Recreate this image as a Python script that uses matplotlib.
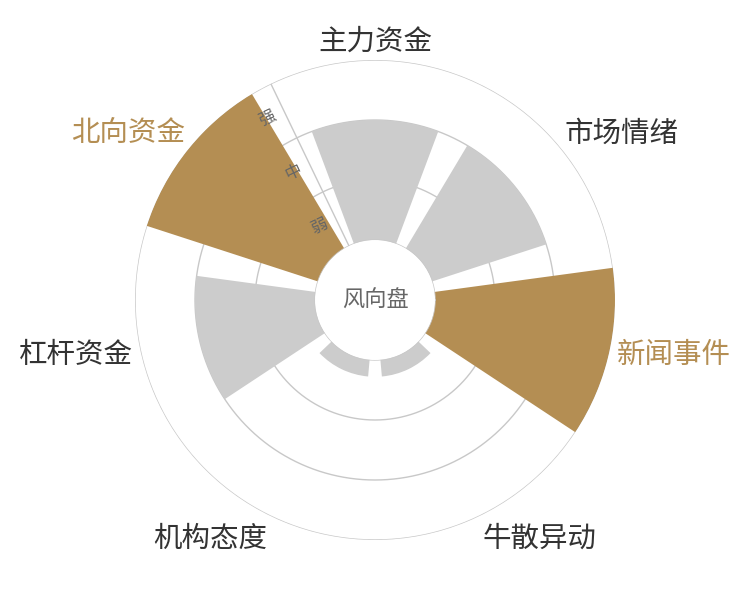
import numpy as np
import matplotlib
matplotlib.use("Agg")
import matplotlib.pyplot as plt

plt.rcParams["font.family"] = ["Noto Sans CJK SC", "DejaVu Sans"]

# data, clockwise from the top
categories = ["主力资金", "市场情绪", "新闻事件", "牛散异动", "机构态度", "杠杆资金", "北向资金"]
values = [2, 2, 3, 0.28, 0.28, 2, 3]
highlight = [False, False, True, False, False, False, True]
levels = ["弱", "中", "强"]

gold = "#b48e53"
grey_bar = "#cccccc"
line_col = "#c8c8c8"

n = len(categories)
step = 2 * np.pi / n
theta = np.pi / 2 - np.arange(n) * step
rmax = len(levels)

fig = plt.figure(figsize=(7.5, 6), dpi=100)
ax = fig.add_axes([0.18, 0.1, 0.64, 0.8], projection="polar")
ax.set_ylim(0, rmax)
ax.set_rorigin(-1)
ax.axis("off")

# rings and axis line
circ = np.linspace(0, 2 * np.pi, 721)
for r in range(1, rmax + 1):
    ax.plot(circ, np.full_like(circ, r), color=line_col, lw=1.0, zorder=1)
axis_ang = np.pi / 2 + step / 2
ax.plot([axis_ang, axis_ang], [0, rmax], color=line_col, lw=1.0, zorder=1)

# bars
colors = [gold if h else grey_bar for h in highlight]
ax.bar(theta, values, width=step * 0.8, bottom=0, color=colors, zorder=2, linewidth=0)

# inner hole border
ax.plot(circ, np.zeros_like(circ), color=line_col, lw=1.0, zorder=3)
ax.text(0.5, 0.5, "风向盘", transform=ax.transAxes, ha="center", va="center",
        fontsize=16, color="#666666", zorder=4)

# level labels along the axis
rot = np.degrees(axis_ang) - 90
perp = axis_ang + np.pi / 2
for i, lab in enumerate(levels):
    ax.annotate(lab, xy=(axis_ang, i + 0.5), xytext=(13 * np.cos(perp), 13 * np.sin(perp)),
                textcoords="offset points", ha="center", va="center", rotation=rot,
                fontsize=12, color="#666666", zorder=4, annotation_clip=False)

# category labels
for t, name, h in zip(theta, categories, highlight):
    c, s = np.cos(t), np.sin(t)
    ha = "center" if abs(c) < 0.3 else ("left" if c > 0 else "right")
    va = "center" if abs(s) < 0.3 else ("bottom" if s > 0 else "top")
    lab_r = rmax + (3 if va == "bottom" else 8) / 60
    ax.text(t, lab_r, name, ha=ha, va=va, fontsize=20.5,
            color=gold if h else "#333333", clip_on=False)

fig.savefig("out.png", dpi=100, facecolor="white")
